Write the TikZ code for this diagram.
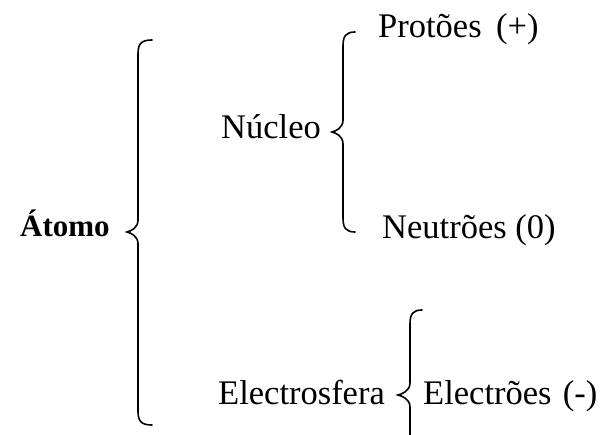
\documentclass[tikz,border=0pt]{standalone}
\usepackage{fontspec}
\setmainfont{Liberation Serif}
\newcommand\mybrace[6]{% xe xs xt ytop ymid ybot
  \draw[bracestyle] (#1,#4) .. controls ({#2+3},#4) and (#2,{#4+4}) .. (#2,{#4+14})
    -- (#2,{#5-12}) .. controls (#2,{#5-4}) and ({#3+4},{#5-1}) .. (#3,#5)
    .. controls ({#3+4},{#5+1}) and (#2,{#5+4}) .. (#2,{#5+12})
    -- (#2,{#6-14}) .. controls (#2,{#6-4}) and ({#2+3},#6) .. (#1,#6);}
\begin{document}
\begin{tikzpicture}[x=1pt,y=-1pt,
  bracestyle/.style={line width=1.6pt,line cap=round},
  lbl/.style={anchor=base west,inner sep=0pt,font=\fontsize{34.5}{40}\selectfont}]
\useasboundingbox (0,0) rectangle (608,435);
\node[lbl,font=\fontsize{31}{36}\selectfont\bfseries] (atomo) at (20,237) {Átomo};
\node[lbl] (nucleo) at (221,139) {Núcleo};
\node[lbl] (protoes) at (378,38) {Protões\hspace{0.42em}(+)};
\node[lbl] (neutroes) at (382,239) {Neutrões (0)};
\node[lbl] (electrosfera) at (218,405) {Electrosfera};
\node[lbl] (electroes) at (423,405) {Electrões\hspace{0.33em}(-)};
\mybrace{152}{138}{127}{40}{232}{425}
\mybrace{355}{343}{332}{32}{132}{232}
\draw[bracestyle] (422,310) .. controls (413,310) and (410,314) .. (410,324)
  -- (410,383) .. controls (410,391) and (402,394) .. (398,395)
  .. controls (402,396) and (410,399) .. (410,407) -- (410,440);
\end{tikzpicture}
\end{document}
